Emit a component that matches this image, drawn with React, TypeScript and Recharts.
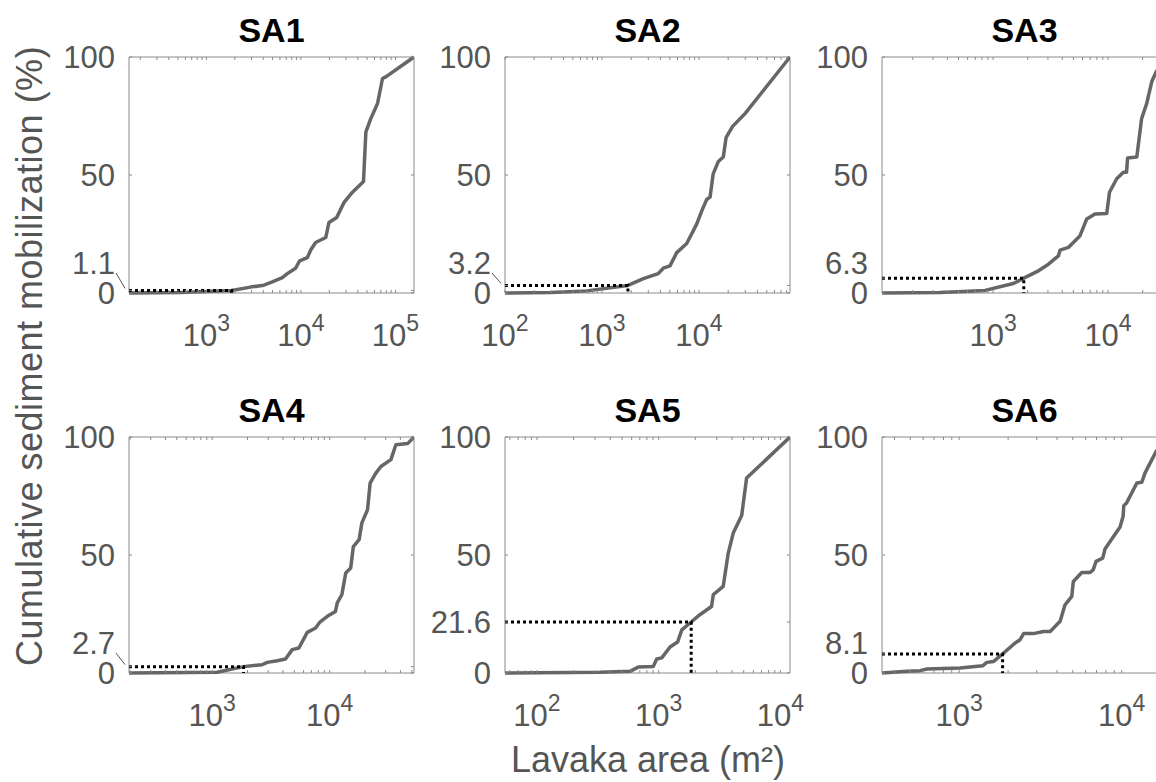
import { LineChart, Line, XAxis, YAxis, ReferenceArea } from 'recharts';

// Six cumulative-mobilization curves (SA1..SA6), lavaka area on a log x axis.
// Values: area in m², cumulative share in %.

const sa1Area = [152, 530, 1850, 2930, 4060, 4980, 6360, 7180, 8790, 9680, 11700, 12700, 14300, 18300, 19800, 23900, 28600, 35100, 45900, 48600, 54800, 64600, 72900, 79000, 157000];
const sa1Pct = [0, 0.2, 1.1, 2.5, 3.3, 4.7, 6.5, 8.2, 10.5, 13.6, 15, 18.2, 21.4, 23.5, 29.9, 32, 38.4, 42.7, 47.2, 68.2, 73.9, 80.3, 90.9, 91.6, 100];

const sa2Area = [100, 300, 695, 1850, 2670, 3800, 4280, 5020, 5890, 7470, 9460, 10700, 12000, 13000, 14000, 15800, 17800, 19000, 22200, 29800, 86700];
const sa2Pct = [0, 0.2, 0.9, 3.2, 6.1, 8.2, 10.5, 11.5, 17.1, 21, 29.2, 34.9, 39.6, 40.6, 50.5, 55.7, 57.6, 65.8, 70.6, 76, 100];

const sa3Area = [108, 346, 851, 1500, 1850, 2480, 3030, 3700, 3830, 4520, 5710, 6530, 7710, 9750, 10300, 11900, 13600, 14500, 14800, 17800, 19600, 21700, 24000, 26200, 32600];
const sa3Pct = [0, 0.2, 1.1, 4, 6.3, 9.4, 12.2, 15.7, 18.2, 19.3, 24.3, 31.4, 33.5, 33.7, 42.7, 48.4, 51.2, 51.2, 57.2, 57.6, 73.9, 80.3, 89.5, 93.7, 100];

const sa4Area = [196, 1100, 1850, 2660, 2940, 3580, 4210, 4800, 5470, 6450, 7590, 8260, 9550, 11200, 11600, 12700, 13700, 15100, 15900, 17800, 18800, 21000, 22100, 24700, 27300, 33200, 36600, 46100, 52200];
const sa4Pct = [0, 0.3, 2.7, 3.5, 4.5, 5.2, 5.9, 9.9, 10.6, 17.2, 19.1, 21.6, 24, 26.1, 29.7, 33.2, 42.4, 44.5, 53.6, 56.5, 63.6, 69.2, 80.5, 84.7, 87.5, 90.4, 96.7, 97.2, 100];

const sa5Area = [54.6, 330, 581, 679, 904, 963, 1060, 1240, 1430, 1550, 1850, 2180, 2720, 2810, 3390, 3730, 4100, 4810, 5280, 12000];
const sa5Pct = [0, 0.3, 0.7, 2.5, 2.8, 5.9, 6.4, 11, 13.1, 18.3, 21.6, 24.7, 28.2, 33.2, 36.7, 50.8, 59.3, 66.7, 82.6, 100];

const sa6Area = [335, 478, 575, 633, 1010, 1400, 1480, 1630, 1850, 2210, 2370, 2490, 2860, 3300, 3630, 4180, 4480, 4930, 5040, 5680, 6390, 6690, 6950, 7640, 7890, 9770, 10200, 10300, 10700, 12400, 13300, 13900, 16300, 19000];
const sa6Pct = [0, 0.7, 1, 1.7, 2.1, 3.1, 4.5, 4.9, 8.1, 12.7, 14.1, 16.7, 16.7, 17.6, 17.6, 21.9, 28.9, 32.5, 38.8, 42.6, 42.6, 43.8, 47.3, 48.7, 52.5, 61.9, 66.4, 70.9, 72, 80.5, 80.8, 84.7, 93.9, 100];

const titles = ['SA1', 'SA2', 'SA3', 'SA4', 'SA5', 'SA6'];
const areas = [sa1Area, sa2Area, sa3Area, sa4Area, sa5Area, sa6Area];
const pcts = [sa1Pct, sa2Pct, sa3Pct, sa4Pct, sa5Pct, sa6Pct];
// labelled decades per panel
const xMajors = [[1e3, 1e4, 1e5], [1e2, 1e3, 1e4], [1e3, 1e4], [1e3, 1e4], [1e2, 1e3, 1e4], [1e3, 1e4]];
// dotted marker: area threshold and the share mobilized below it
const thresholdArea = 1850;
const thresholdPct = [1.1, 3.2, 6.3, 2.7, 21.6, 8.1];

const PW = 285, PH = 236, ML = 129, MT = 57;
const YW = 60, XH = 60; // axis boxes inside the margins
const colLeft = [129, 505, 882];
const rowTop = [57, 437];
const AXIS = '#8a8a8a', TXT = '#555555', CURVE = '#666666';
const FONT = '"Liberation Sans", Arial, Helvetica, sans-serif';

function logTicks(lo: number, hi: number) {
  const out: number[] = [];
  for (let k = Math.floor(Math.log10(lo)); k <= Math.ceil(Math.log10(hi)); k++) {
    for (let m = 1; m <= 9; m++) {
      const v = m * Math.pow(10, k);
      if (v >= lo && v <= hi) out.push(v);
    }
  }
  return out;
}

function XTick({ x, y, payload, majors }: any) {
  const v = payload.value;
  const exp = Math.round(Math.log10(v));
  return (
    <g>
      <line x1={x} x2={x} y1={y} y2={y - 3} stroke={AXIS} />
      <line x1={x} x2={x} y1={y - PH} y2={y - PH + 3} stroke={AXIS} />
      {majors.includes(v) && (
        <text x={x} y={y + 53} textAnchor="middle" fill={TXT} fontSize={31} fontFamily={FONT}>
          <tspan>10</tspan>
          <tspan dy={-15} fontSize={23}>{exp}</tspan>
        </text>
      )}
    </g>
  );
}

function YTick({ x, y, payload }: any) {
  const v = payload.value;
  const base = MT + PH;
  // small threshold labels get lifted clear of the "0"
  const ly = v > 0 && v < 50 ? Math.min(y, base - 30) : y;
  return (
    <g>
      <line x1={x} x2={x + 3} y1={y} y2={y} stroke={AXIS} />
      <line x1={x + PW - 3} x2={x + PW} y1={y} y2={y} stroke={AXIS} />
      {y - ly > 18 && <line x1={x - 13} y1={ly + 10} x2={x - 4} y2={y - 2} stroke={TXT} strokeWidth={1} />}
      <text x={x - 14} y={ly} textAnchor="end" dominantBaseline="central" fill={TXT} fontSize={31} fontFamily={FONT}>
        {v}
      </text>
    </g>
  );
}

function Panel({ i }: { i: number }) {
  const area = areas[i];
  const curve = area.map((a, j) => ({ area: a, pct: pcts[i][j] }));
  const lo = area[0], hi = area[area.length - 1];
  const thr = thresholdPct[i];
  const dotted = [
    { area: lo, pct: thr },
    { area: thresholdArea, pct: thr },
    { area: thresholdArea, pct: 0 },
  ];
  const left = colLeft[i % 3] - ML;
  const top = rowTop[Math.floor(i / 3)] - MT;
  return (
    <div style={{ position: 'absolute', left, top }}>
      <LineChart width={ML + PW + 40} height={MT + PH + 70} data={curve}
        margin={{ top: MT, left: ML - YW, right: 40, bottom: 70 - XH }}>
        <XAxis dataKey="area" type="number" scale="log" domain={[lo, hi]} allowDataOverflow
          ticks={logTicks(lo, hi)} interval={0} height={XH} tickSize={0} tickMargin={0}
          axisLine={false} tickLine={false}
          tick={(p: any) => <XTick {...p} majors={xMajors[i]} />} />
        <YAxis type="number" domain={[0, 100]} ticks={[0, thr, 50, 100]} interval={0}
          width={YW} tickSize={0} tickMargin={0} axisLine={false} tickLine={false}
          tick={(p: any) => <YTick {...p} />} />
        <ReferenceArea x1={lo} x2={hi} y1={0} y2={100} fill="none" stroke={AXIS} strokeWidth={1} />
        <Line dataKey="pct" type="linear" stroke={CURVE} strokeWidth={3.5} dot={false}
          strokeLinejoin="round" isAnimationActive={false} />
        <Line data={dotted} dataKey="pct" type="linear" stroke="#000" strokeWidth={3}
          strokeDasharray="3 3" dot={false} isAnimationActive={false} />
      </LineChart>
    </div>
  );
}

export default function App() {
  return (
    <div style={{ position: 'absolute', left: 0, top: 0, width: 1156, height: 782, overflow: 'hidden', background: '#fff', fontFamily: FONT }}>
      {titles.map((_, i) => <Panel key={i} i={i} />)}
      <svg width={1156} height={782} style={{ position: 'absolute', left: 0, top: 0, pointerEvents: 'none' }}>
        {titles.map((t, i) => (
          <text key={t} x={colLeft[i % 3] + PW / 2} y={rowTop[Math.floor(i / 3)] - 15} textAnchor="middle"
            fontSize={34} fontWeight="bold" fill="#000" fontFamily={FONT}>{t}</text>
        ))}
        <text transform="translate(42, 356) rotate(-90)" textAnchor="middle" fontSize={36} letterSpacing={0.5}
          fill={TXT} fontFamily={FONT}>Cumulative sediment mobilization (%)</text>
        <text x={648} y={772} textAnchor="middle" fontSize={36} fill={TXT} fontFamily={FONT}>
          Lavaka area (m²)
        </text>
      </svg>
    </div>
  );
}
